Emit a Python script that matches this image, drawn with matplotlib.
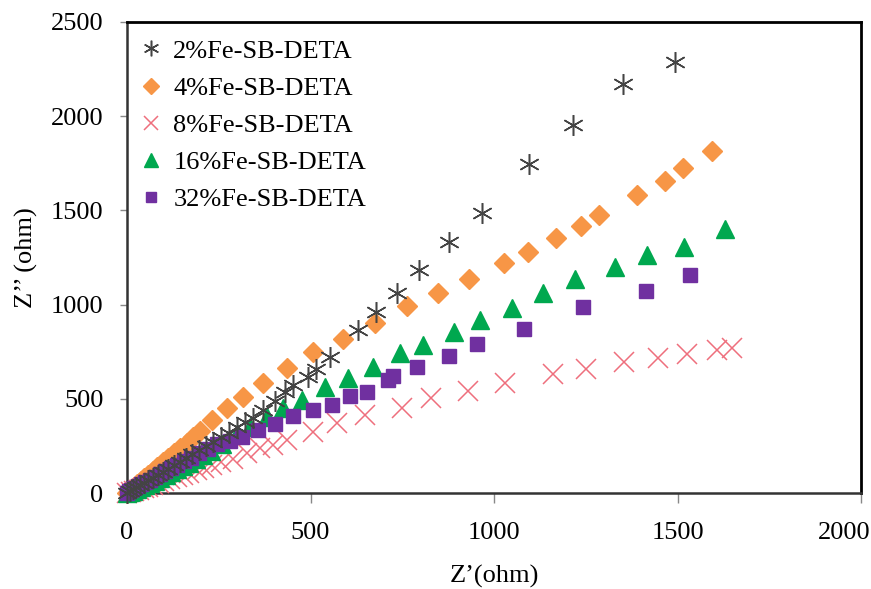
import matplotlib
matplotlib.use("Agg")
import matplotlib.pyplot as plt
import matplotlib.transforms as mtransforms

labels = ["2%Fe-SB-DETA", "4%Fe-SB-DETA", "8%Fe-SB-DETA", "16%Fe-SB-DETA", "32%Fe-SB-DETA"]

x2 = [0, 8, 16, 25, 35, 46, 58, 70, 84, 98, 113, 128, 144, 160, 178, 196, 215, 235, 256, 278, 300, 322, 344, 371, 403, 431, 453, 494, 515, 553, 630, 678, 735, 796, 877, 967, 1096, 1215, 1352, 1493]
y2 = [0, 10, 20, 30, 42, 55, 68, 82, 98, 114, 130, 148, 166, 185, 205, 226, 248, 270, 295, 320, 348, 375, 400, 440, 490, 536, 573, 616, 657, 722, 865, 961, 1061, 1184, 1333, 1486, 1746, 1953, 2171, 2288]

x4 = [0, 6, 12, 20, 28, 37, 47, 58, 70, 83, 97, 112, 128, 145, 163, 181, 199, 231, 272, 316, 371, 435, 508, 589, 676, 763, 848, 932, 1027, 1093, 1169, 1237, 1286, 1390, 1466, 1515, 1594]
y4 = [0, 10, 20, 34, 48, 63, 80, 98, 118, 140, 162, 186, 212, 240, 268, 298, 330, 388, 451, 510, 584, 663, 748, 817, 902, 993, 1062, 1136, 1221, 1279, 1354, 1417, 1476, 1582, 1656, 1725, 1815]

x8 = [0, 10, 20, 32, 45, 58, 72, 87, 102, 118, 135, 152, 170, 190, 210, 232, 255, 289, 327, 362, 398, 436, 507, 572, 649, 749, 828, 930, 1030, 1161, 1251, 1354, 1447, 1526, 1607, 1648]
y8 = [0, 5, 10, 17, 25, 33, 42, 52, 62, 73, 84, 95, 107, 120, 133, 147, 162, 180, 212, 239, 255, 281, 324, 372, 414, 451, 504, 541, 583, 630, 657, 696, 717, 738, 760, 770]

x16 = [0, 8, 16, 26, 37, 49, 62, 76, 90, 105, 120, 136, 152, 170, 188, 208, 230, 260, 299, 335, 381, 426, 476, 540, 603, 670, 744, 806, 891, 962, 1049, 1134, 1221, 1330, 1416, 1518, 1629]
y16 = [0, 6, 12, 20, 30, 41, 53, 66, 80, 95, 110, 126, 143, 161, 180, 201, 224, 258, 313, 350, 403, 451, 494, 563, 610, 669, 743, 786, 855, 918, 981, 1061, 1136, 1201, 1263, 1305, 1401]

x32 = [0, 6, 12, 20, 29, 39, 50, 62, 75, 89, 104, 120, 137, 155, 175, 196, 220, 245, 281, 313, 357, 403, 453, 507, 558, 608, 653, 711, 725, 790, 877, 954, 1082, 1243, 1414, 1534]
y32 = [0, 8, 16, 25, 35, 46, 58, 71, 85, 100, 116, 133, 150, 168, 188, 210, 236, 258, 276, 297, 334, 366, 409, 441, 467, 515, 536, 600, 621, 669, 727, 791, 870, 988, 1074, 1157]

xticks = [0, 500, 1000, 1500, 2000]
yticks = [0, 500, 1000, 1500, 2000, 2500]

plt.rcParams['font.family'] = ['Liberation Serif', 'DejaVu Serif']
FS = 19

fig = plt.figure(figsize=(8.71, 5.89), dpi=100)
ax = fig.add_axes([127/871, 1 - 493/589, (861 - 127)/871, (493 - 22)/589])

ax.plot(x2, y2, linestyle='none', marker=(6, 2, 0), ms=15, mew=1.1, color='#444444', label=labels[0], zorder=6, clip_on=False)
ax.plot(x4, y4, linestyle='none', marker='D', ms=10.5, color='#F79646', mec='#F79646', label=labels[1], zorder=3, clip_on=False)
ax.plot(x8, y8, linestyle='none', marker='x', ms=14, mew=1.1, color='#EE6F7D', label=labels[2], zorder=4, clip_on=False)
ax.plot(x16, y16, linestyle='none', marker='^', ms=12.5, color='#00A84F', mec='#00A84F', label=labels[3], zorder=4, clip_on=False)
ax.plot(x32, y32, linestyle='none', marker='s', ms=9.5, color='#7030A0', mec='#7030A0', label=labels[4], zorder=5, clip_on=False)

ax.set_xlim(0, 2000)
ax.set_ylim(0, 2500)
ax.set_xticks(xticks)
ax.set_yticks(yticks)
ax.tick_params(axis='x', direction='out', length=7, width=1, color='#888888', pad=14, labelsize=FS)
ax.tick_params(axis='y', direction='out', length=5, width=1, color='#888888', pad=12, labelsize=FS)

# shift the last x tick label left so it stays inside the figure, as in the reference
fig.canvas.draw()
last = ax.get_xticklabels()[-1]
last.set_transform(last.get_transform() + mtransforms.ScaledTranslation(-17/100, 0, fig.dpi_scale_trans))

for side in ['top', 'right']:
    ax.spines[side].set_color('black')
    ax.spines[side].set_linewidth(2)
for side in ['left', 'bottom']:
    ax.spines[side].set_color('#333333')
    ax.spines[side].set_linewidth(1.8)

ax.set_xlabel('Z\u2019(ohm)', fontsize=FS, labelpad=15)
ax.set_ylabel('Z\u2019\u2019 (ohm)', fontsize=FS, labelpad=9)

ax.legend(loc='upper left', bbox_to_anchor=(-0.007, 1.0), frameon=False, fontsize=FS,
          handlelength=0.9, handletextpad=0.4, labelspacing=0.52, borderaxespad=0.25,
          markerscale=0.75)

fig.savefig('out.png', dpi=100)
